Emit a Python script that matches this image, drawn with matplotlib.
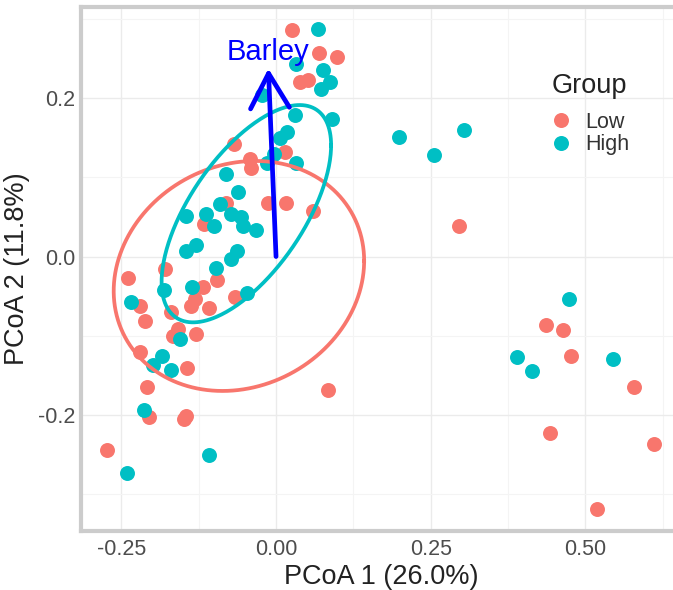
import numpy as np
import matplotlib
matplotlib.use("Agg")
import matplotlib.pyplot as plt
from matplotlib.lines import Line2D

# =============================================================================
# DATA
# =============================================================================
groups = ["Low", "High"]
colors = {"Low": "#F8766D", "High": "#00BFC4"}

low_x = [0.025, 0.070, 0.099, 0.039, 0.052, -0.068, 0.0145, -0.042, -0.041,
         -0.0125, 0.016, 0.059, -0.081, -0.116, -0.179, -0.240, -0.095, -0.118,
         -0.220, -0.138, -0.131, -0.109, -0.066, -0.169, -0.212, -0.158, -0.166,
         -0.130, -0.220, -0.144, -0.208, 0.0845, -0.205, -0.145, -0.149, -0.274,
         0.295, 0.436, 0.464, 0.477, 0.579, 0.443, 0.611, 0.518]
low_y = [0.286, 0.257, 0.251, 0.220, 0.222, 0.142, 0.132, 0.123, 0.111,
         0.068, 0.068, 0.057, 0.068, 0.041, -0.016, -0.027, -0.030, -0.038,
         -0.062, -0.062, -0.054, -0.065, -0.051, -0.070, -0.081, -0.091, -0.100,
         -0.098, -0.121, -0.140, -0.165, -0.168, -0.202, -0.201, -0.205, -0.244,
         0.038, -0.086, -0.093, -0.126, -0.165, -0.223, -0.236, -0.318]

high_x = [0.068, 0.032, 0.0755, 0.087, 0.072, -0.023, 0.031, 0.090, 0.018,
          0.0065, -0.004, -0.015, 0.032, -0.081, -0.061, -0.0905, -0.073, -0.057,
          -0.053, -0.032, -0.145, -0.113, -0.101, -0.145, -0.129, -0.0625, -0.072,
          -0.097, -0.181, -0.136, -0.235, -0.047, -0.155, -0.185, -0.199, -0.169,
          -0.213, -0.108, -0.241, 0.198, 0.255, 0.304, 0.474, 0.390, 0.414, 0.544]
high_y = [0.2865, 0.243, 0.235, 0.220, 0.211, 0.204, 0.178, 0.174, 0.157,
          0.149, 0.129, 0.118, 0.118, 0.104, 0.081, 0.066, 0.054, 0.050,
          0.038, 0.033, 0.051, 0.054, 0.038, 0.007, 0.0145, 0.007, -0.0035,
          -0.015, -0.042, -0.038, -0.057, -0.046, -0.104, -0.126, -0.137, -0.143,
          -0.194, -0.250, -0.273, 0.151, 0.128, 0.160, -0.053, -0.127, -0.144, -0.129]

# 95% ellipses: centre, half extents along x / y and the x-y coupling term
ellipse_center = {"Low": (-0.060, -0.0245), "High": (-0.048, 0.054)}
ellipse_half = {"Low": (0.2024, 0.145), "High": (0.137, 0.137)}
ellipse_cov = {"Low": 0.00385, "High": 0.0118}

# environmental vector
arrow_name = "Barley"
arrow_tail = (0.0, 0.0)
arrow_tip = (-0.0124, 0.237)
arrow_label_pos = (-0.0124, 0.2575)

x_ticks = [-0.25, 0.00, 0.25, 0.50]
x_ticklabels = ["-0.25", "0.00", "0.25", "0.50"]
y_ticks = [-0.2, 0.0, 0.2]
y_ticklabels = ["-0.2", "0.0", "0.2"]
x_minor = [-0.125, 0.125, 0.375, 0.625]
y_minor = [-0.3, -0.1, 0.1, 0.3]

xlabel = "PCoA 1 (26.0%)"
ylabel = "PCoA 2 (11.8%)"
legend_title = "Group"

# =============================================================================
# FIGURE CONFIGURATION
# =============================================================================
plt.rcParams.update({
    "font.family": ["Liberation Sans", "DejaVu Sans"],
    "axes.unicode_minus": False,
})

tick_size = 15.5
title_size = 19.5
pt_size = 116
border_col = "#cccccc"

fig = plt.figure(figsize=(6.73, 5.90), dpi=100)
ax = fig.add_axes([0.1204, 0.1008, 0.892, 0.8873])

ax.set_xlim(-0.3152, 0.6551)
ax.set_ylim(-0.3455, 0.3146)

# grid
ax.set_xticks(x_ticks)
ax.set_xticklabels(x_ticklabels)
ax.set_yticks(y_ticks)
ax.set_yticklabels(y_ticklabels)
ax.set_xticks(x_minor, minor=True)
ax.set_yticks(y_minor, minor=True)
ax.grid(which="major", color="#ebebeb", lw=1.0, zorder=0)
ax.grid(which="minor", color="#f4f4f4", lw=0.8, zorder=0)
ax.set_axisbelow(True)
ax.tick_params(which="both", length=0)
ax.tick_params(axis="x", labelsize=tick_size, labelcolor="#4d4d4d", pad=6)
ax.tick_params(axis="y", labelsize=tick_size, labelcolor="#4d4d4d", pad=4)

for sp in ax.spines.values():
    sp.set_color(border_col)
    sp.set_linewidth(3)

# points
ax.scatter(low_x, low_y, s=pt_size, color=colors["Low"], linewidths=0, zorder=2)
ax.scatter(high_x, high_y, s=pt_size, color=colors["High"], linewidths=0, zorder=2)

# ellipses
t = np.linspace(0, 2 * np.pi, 300)
for g in groups:
    hx, hy = ellipse_half[g]
    c = ellipse_cov[g]
    S = np.array([[hx ** 2, c], [c, hy ** 2]])
    L = np.linalg.cholesky(S)
    pts = L @ np.vstack([np.cos(t), np.sin(t)])
    cx, cy = ellipse_center[g]
    ax.plot(cx + pts[0], cy + pts[1], color=colors[g], lw=2.7, zorder=3)

# arrow
ax.annotate("", xy=arrow_tip, xytext=arrow_tail,
            arrowprops=dict(arrowstyle="->,head_length=2.5,head_width=1.4",
                            color="#0000FF", lw=3.4, mutation_scale=10,
                            shrinkA=0, shrinkB=0),
            zorder=4)
ax.text(arrow_label_pos[0], arrow_label_pos[1], arrow_name, color="#0000FF",
        fontsize=21, ha="center", va="center", zorder=5)

ax.set_xlabel(xlabel, fontsize=title_size, color="#222222", labelpad=3)
ax.set_ylabel(ylabel, fontsize=title_size, color="#222222", labelpad=6)

# legend
ax.text(0.7846, 0.850, legend_title, transform=ax.transAxes,
        fontsize=title_size, color="#222222", ha="left", va="center")
handles = [Line2D([], [], marker="o", ls="", markersize=10.8,
                  markerfacecolor=colors[g], markeredgewidth=0, label=g)
           for g in groups]
leg = ax.legend(handles=handles, loc="upper left",
                bbox_to_anchor=(0.7776, 0.800), frameon=False, borderpad=0,
                borderaxespad=0, fontsize=tick_size,
                handletextpad=0.56, labelspacing=0.08, handlelength=1.2)
for txt in leg.get_texts():
    txt.set_color("#333333")

fig.savefig("out.png", dpi=100)
